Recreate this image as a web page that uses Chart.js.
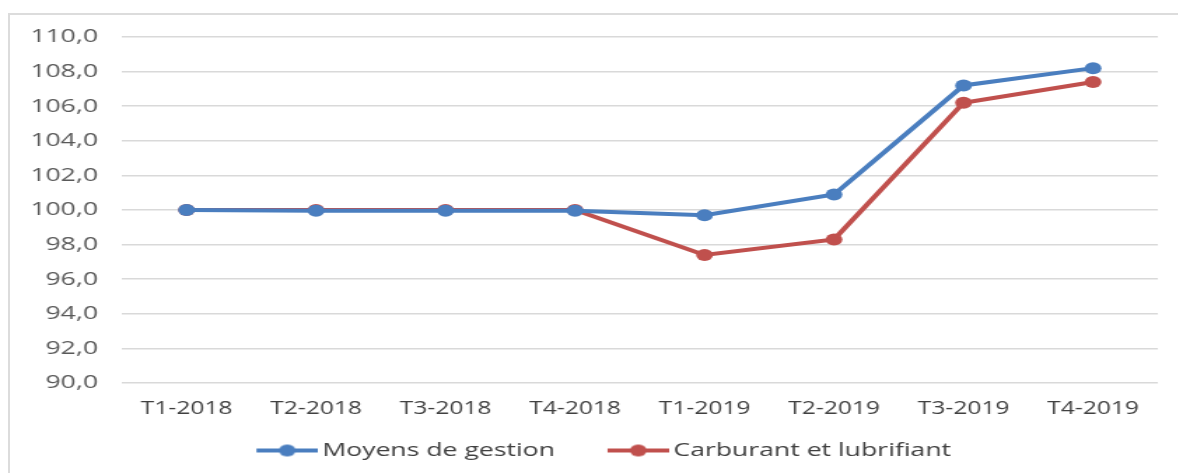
<!DOCTYPE html>
<html><head><meta charset="utf-8">
<script src="https://cdn.jsdelivr.net/npm/chart.js@4"></script>
<style>
html,body{margin:0;padding:0;background:#fff;overflow:hidden;}
#frame{position:absolute;left:8px;top:13px;width:1180px;height:470px;border:2px solid #dcdcdc;box-sizing:border-box;}
#wrap{position:absolute;left:0;top:0;width:842px;height:473px;transform:scaleX(1.4);transform-origin:0 0;}
</style></head>
<body>
<div id="frame"></div>
<div id="wrap"><canvas id="c" width="842" height="473"></canvas></div>
<script>
const categories = ['T1-2018','T2-2018','T3-2018','T4-2018','T1-2019','T2-2019','T3-2019','T4-2019'];
const moyens = [100.0, 99.95, 99.95, 99.95, 99.7, 100.9, 107.2, 108.2];
const carburant = [100.0, 100.0, 100.0, 100.0, 97.4, 98.3, 106.2, 107.4];
const seriesNames = ['Moyens de gestion','Carburant et lubrifiant'];
const yMin = 90, yMax = 110, yStep = 2;

const BLUE = '#4a7ebf', RED = '#c0504d';
const FONT = "'Open Sans', sans-serif";

function legendIcon(color){
  const cv = document.createElement('canvas');
  cv.width = 74; cv.height = 14;
  const g = cv.getContext('2d');
  g.strokeStyle = color; g.lineWidth = 4;
  g.beginPath(); g.moveTo(30,7); g.lineTo(74,7); g.stroke();
  g.fillStyle = color; g.beginPath(); g.arc(52,7,6,0,Math.PI*2); g.fill();
  return cv;
}

new Chart(document.getElementById('c'), {
  type: 'line',
  data: {
    labels: categories,
    datasets: [
      {label: seriesNames[0], data: moyens, borderColor: BLUE, backgroundColor: BLUE, borderWidth: 4, pointRadius: 6, pointHoverRadius: 6, pointStyle: 'circle', pointBorderWidth: 0, tension: 0},
      {label: seriesNames[1], data: carburant, borderColor: RED, backgroundColor: RED, borderWidth: 4, pointRadius: 6, pointHoverRadius: 6, pointStyle: 'circle', pointBorderWidth: 0, tension: 0}
    ]
  },
  options: {
    responsive: false,
    animation: false,
    devicePixelRatio: 1,
    layout: {padding: {left: 12, right: 15, top: 37, bottom: 3}},
    plugins: {
      tooltip: {enabled: false},
      legend: {
        position: 'bottom',
        labels: {
          usePointStyle: true,
          pointStyleWidth: 61,
          padding: 14,
          color: '#404040',
          font: {family: FONT, size: 19},
          generateLabels: (chart) => chart.data.datasets.map((ds, i) => ({
            text: ds.label, pointStyle: legendIcon(ds.borderColor), fillStyle: ds.borderColor,
            strokeStyle: ds.borderColor, lineWidth: 0, hidden: false, datasetIndex: i, fontColor: '#404040'
          }))
        }
      }
    },
    scales: {
      x: {
        offset: true,
        grid: {display: false, drawTicks: false},
        border: {display: false},
        ticks: {color: '#404040', font: {family: FONT, size: 17.5}, padding: 16, maxRotation: 0, autoSkip: false},
        afterFit: (s) => { s.height = 44; }
      },
      y: {
        min: yMin, max: yMax,
        grid: {color: '#d9d9d9', lineWidth: 1.5, drawTicks: false},
        border: {display: false},
        ticks: {stepSize: yStep, color: '#595959', font: {family: FONT, size: 19}, padding: 17,
          callback: (v) => v.toFixed(1).replace('.', ',')},
        afterFit: (s) => { s.width = 75; }
      }
    }
  }
});
</script>
</body></html>
